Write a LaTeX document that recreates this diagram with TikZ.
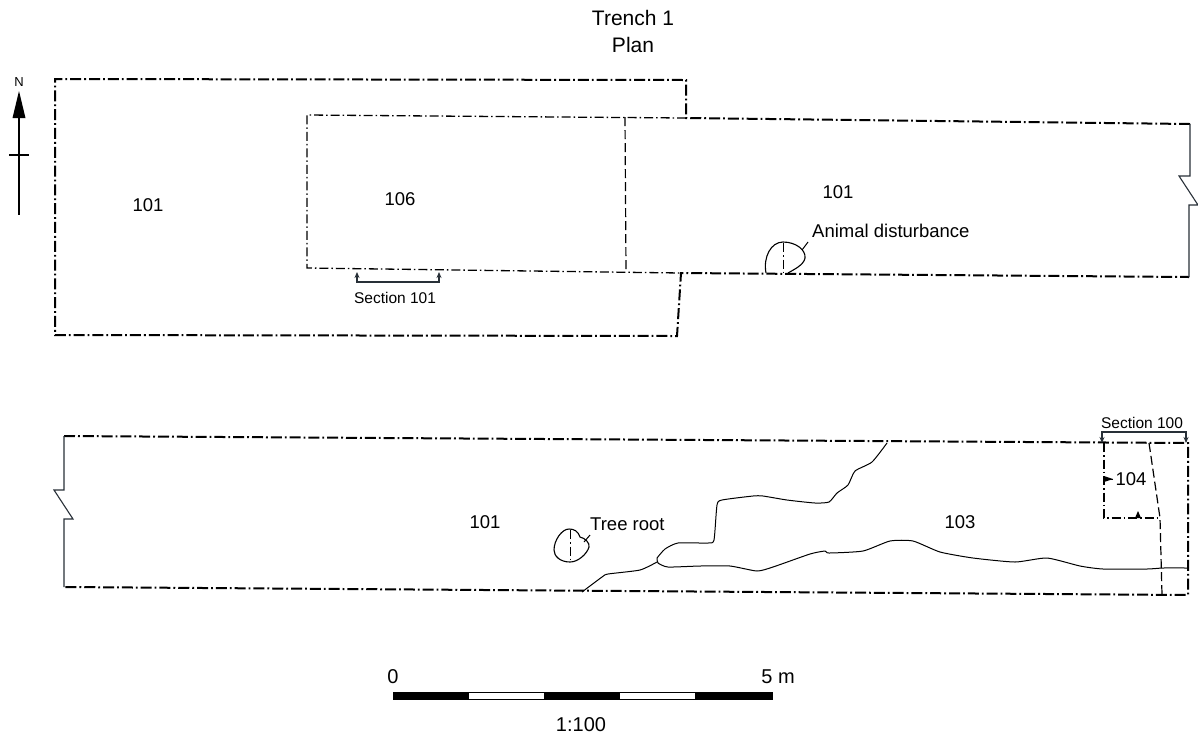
\documentclass[tikz,border=0pt]{standalone}
\usepackage{fontspec}
\setmainfont{Liberation Sans}
\usetikzlibrary{arrows.meta}
\tikzset{
  dd/.style={line width=2pt, dash pattern=on 11pt off 3pt on 1.8pt off 3pt},
  ddthin/.style={line width=1.3pt, dash pattern=on 9pt off 3pt on 1.5pt off 3pt},
  dsh/.style={line width=1.2pt, dash pattern=on 9pt off 4pt},
  edgeline/.style={line width=1.1pt, draw={rgb,255:red,40;green,48;blue,56}},
  soil/.style={line width=1pt},
  seclab/.style={font=\fontsize{15.5}{18}\selectfont, inner sep=0pt},
  lab/.style={font=\fontsize{18.5}{21}\selectfont, inner sep=0pt},
  big/.style={font=\fontsize{20}{24}\selectfont, inner sep=0pt},
  ttl/.style={font=\fontsize{21}{25}\selectfont, inner sep=0pt},
  secbr/.style={line width=1.1pt, draw={rgb,255:red,40;green,48;blue,56},
     {Stealth[length=6pt,width=5pt]}-{Stealth[length=6pt,width=5pt]}},
}
\begin{document}
\begin{tikzpicture}[x=1pt,y=-1pt]
\useasboundingbox (0,0) rectangle (1198,740);
% title
\node[ttl] (t1) at (633,18) {Trench 1};
\node[ttl] (t2) at (633,45) {Plan};
% north arrow
\node[font=\fontsize{13}{15}\selectfont, inner sep=0pt] (north) at (19,82) {N};
\coordinate (nt) at (19,91);
\coordinate (nb) at (19,215);
\draw[line width=1.3pt] (19,115) -- (nb);
\fill (nt) -- (12.5,118) -- (25.5,118) -- cycle;
\draw[line width=1.1pt] (9,155) -- (29,155);

% ---- upper trench ----
\draw[dd] (1190,124) -- (686,118) -- (686,80) -- (55,79) -- (55,335) -- (677,336) -- (681,273) -- (1189,277);
\draw[edgeline] (1190,124) -- (1190,176) -- (1179,176) -- (1198,205) -- (1189,205) -- (1189,277);
% area 106
\draw[ddthin] (686,118) -- (307,115) -- (307,268) -- (681,273);
\draw[dsh] (625,117) -- (626,272);
% section 101
\draw[secbr] (357,272) -- (357,282) -- (439,282) -- (439,272);
\node[seclab] (s101) at (395,298) {Section 101};
% labels
\node[lab] (l101a) at (148,205) {101};
\node[lab] (l106) at (400,199) {106};
\node[lab] (l101b) at (838,192) {101};
% animal disturbance
\draw[line width=1.1pt] (766,273) .. controls (763,257) and (771,242) .. (783,242)
   .. controls (796,242) and (806,250) .. (805,258)
   .. controls (804,265) and (793,270) .. (788,273);
\draw[ddthin, line width=1pt] (783,243) -- (783,273);
\node[lab, anchor=west] (ad) at (812,231) {Animal disturbance};
\coordinate (ad1) at (802,250);
\draw[line width=1pt] (ad1) -- (808,242);

% ---- lower trench ----
\draw[dd] (64,436) -- (1188,443) -- (1188,595) -- (64,587);
\draw[edgeline] (64,436) -- (64,490) -- (54,490) -- (73,519) -- (64,519) -- (64,587);
% area 104
\draw[ddthin] (1104,443) -- (1104,518) -- (1160,518);
\draw[dsh] (1149,443) -- (1160,518) -- (1162,595);
\fill (1104,476) -- (1104,482) -- (1113,479) -- cycle;
\fill (1135,518) -- (1141,518) -- (1138,511) -- cycle;
\draw[line width=0.9pt] (1104,479) -- (1113,479);
\node[lab] (l104) at (1131,479) {104};
% section 100
\draw[secbr] (1102,443) -- (1102,432) -- (1186,432) -- (1186,443);
\node[seclab] (s100) at (1142,423) {Section 100};
% soil boundaries
\draw[soil] plot[smooth, tension=0.35] coordinates {(887,443) (872,462) (855,471) (848,485) (837,493) (829,502) (815,503) (787,500) (763,496) (753,496) (722,500) (717,505) (714,540) (708,543) (678,543) (665,549) (657,558)};
\draw[soil] plot[smooth, tension=0.35] coordinates {(582,592) (602,577) (608,574) (640,570) (657,562)};
\draw[soil] plot[smooth, tension=0.35] coordinates {(657,558) (658,563) (668,567) (700,566) (730,566) (757,571) (773,567) (810,554) (825,551) (829,553) (863,551) (890,541) (913,541) (940,552) (973,558) (1015,562) (1047,558) (1080,566) (1103,569) (1147,569) (1163,568) (1188,568)};
% tree root
\draw[line width=1.1pt] (569,529) .. controls (574,529) and (578,531) .. (580,537)
  .. controls (585,538) and (590,543) .. (589,547)
  .. controls (587,554) and (578,562) .. (570,562)
  .. controls (560,562) and (554,556) .. (554,550)
  .. controls (554,540) and (562,529) .. (569,529);
\draw[ddthin, line width=1pt] (570,530) -- (570,562);
\coordinate (tr1) at (584,542);
\draw[line width=1pt] (tr1) -- (590,535);
\node[lab, anchor=west] (tr) at (590,524) {Tree root};
\node[lab] (l101c) at (485,522) {101};
\node[lab] (l103) at (960,522) {103};

% ---- scale bar ----
\fill (393,692) rectangle (469,699);
\fill (544,692) rectangle (620,699);
\fill (695,692) rectangle (772,699);
\draw[line width=0.6pt] (393,692) rectangle (772,699);
\node[big] (s0) at (393,677) {0};
\node[big] (s5) at (778,677) {5 m};
\node[big] (sc) at (581,725) {1:100};
\end{tikzpicture}
\end{document}
